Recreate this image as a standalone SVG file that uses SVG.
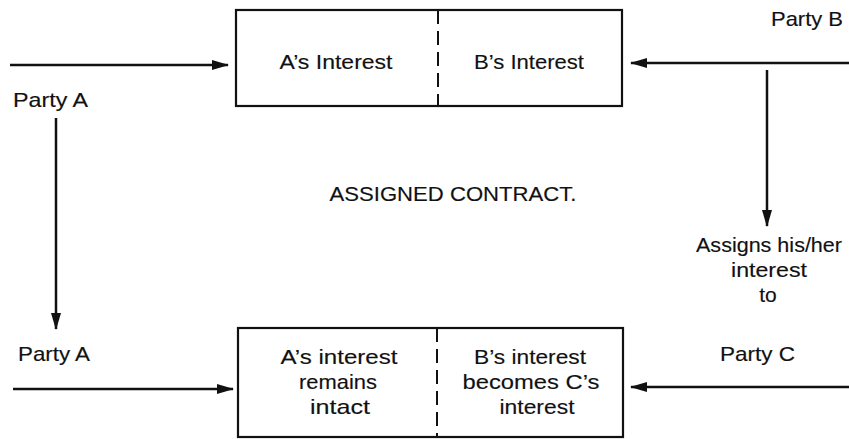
<svg xmlns="http://www.w3.org/2000/svg" width="849" height="439" viewBox="0 0 849 439">
<style>
text{font-family:"Liberation Sans",Arial,sans-serif;font-size:21px;fill:#111;stroke:#111;stroke-width:0.15}
.box{fill:none;stroke:#111;stroke-width:2.2}
.div{stroke:#111;stroke-width:2;stroke-dasharray:14 7}
.arr{stroke:#111;stroke-width:2.5;fill:none;marker-end:url(#ah)}
</style>
<defs>
<marker id="ah" markerWidth="17" markerHeight="10" refX="16" refY="5" orient="auto" markerUnits="userSpaceOnUse">
<path d="M0,0 L17,5 L0,10 Z" fill="#111"/>
</marker>
</defs>
<rect width="849" height="439" fill="#fff"/>
<g id="contract-top">
<rect class="box" x="236" y="10" width="386" height="96"/>
<line class="div" x1="438" y1="10" x2="438" y2="106"/>
<text x="336" y="69" text-anchor="middle" textLength="113" lengthAdjust="spacingAndGlyphs">A’s Interest</text>
<text x="529" y="69" text-anchor="middle" textLength="110" lengthAdjust="spacingAndGlyphs">B’s Interest</text>
</g>
<g id="contract-bottom">
<rect class="box" x="238" y="328" width="385" height="109"/>
<line class="div" x1="437" y1="328" x2="437" y2="437"/>
<text x="339" y="364" text-anchor="middle" textLength="117" lengthAdjust="spacingAndGlyphs">A’s interest</text>
<text x="338" y="389" text-anchor="middle" textLength="78" lengthAdjust="spacingAndGlyphs">remains</text>
<text x="340" y="414" text-anchor="middle" textLength="60" lengthAdjust="spacingAndGlyphs">intact</text>
<text x="530" y="364" text-anchor="middle" textLength="112" lengthAdjust="spacingAndGlyphs">B’s interest</text>
<text x="531" y="389" text-anchor="middle" textLength="137" lengthAdjust="spacingAndGlyphs">becomes C’s</text>
<text x="537" y="414" text-anchor="middle" textLength="75" lengthAdjust="spacingAndGlyphs">interest</text>
</g>
<g id="party-a-top"><text x="13" y="107" textLength="75" lengthAdjust="spacingAndGlyphs">Party A</text></g>
<g id="party-b"><text x="771" y="26" textLength="72" lengthAdjust="spacingAndGlyphs">Party B</text></g>
<g id="party-a-bottom"><text x="18" y="361" textLength="72" lengthAdjust="spacingAndGlyphs">Party A</text></g>
<g id="party-c"><text x="720" y="361" textLength="75" lengthAdjust="spacingAndGlyphs">Party C</text></g>
<g id="title"><text x="453" y="201" text-anchor="middle" textLength="247" lengthAdjust="spacingAndGlyphs">ASSIGNED CONTRACT.</text></g>
<g id="assigns">
<text x="769" y="252" text-anchor="middle" textLength="146" lengthAdjust="spacingAndGlyphs">Assigns his/her</text>
<text x="769" y="277" text-anchor="middle" textLength="76" lengthAdjust="spacingAndGlyphs">interest</text>
<text x="768" y="302" text-anchor="middle">to</text>
</g>
<g id="connectors">
<line class="arr" x1="10" y1="65" x2="228" y2="65"/>
<line class="arr" x1="849" y1="63" x2="631" y2="63"/>
<line class="arr" x1="767" y1="70" x2="767" y2="226"/>
<line class="arr" x1="56" y1="118" x2="56" y2="329"/>
<line class="arr" x1="13" y1="389" x2="233" y2="389"/>
<line class="arr" x1="849" y1="387" x2="631" y2="387"/>
</g>
</svg>
